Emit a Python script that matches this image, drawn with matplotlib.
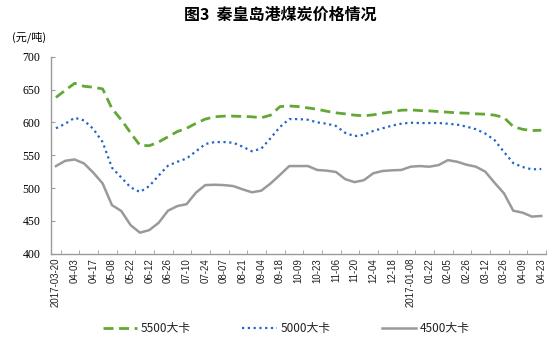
import matplotlib
matplotlib.use("Agg")
import matplotlib.pyplot as plt
import numpy as np

plt.rcParams['font.family'] = ['Noto Sans CJK SC', 'DejaVu Sans']

labels = ["2017-03-20", "04-03", "04-17", "05-08", "05-22", "06-12", "06-26", "07-10",
          "07-24", "08-07", "08-21", "09-04", "09-18", "10-09", "10-23", "11-06", "11-20",
          "12-04", "12-18", "2017-01-08", "01-22", "02-05", "02-26", "03-12", "03-26",
          "04-09", "04-23"]

s5500 = [638, 649, 659.5, 655, 653.5, 651, 621, 604, 584, 565, 564.5, 570, 578,
         586, 591, 598.5, 605, 608.5, 609.5, 609.5, 609, 608.5, 607, 611, 624, 625,
         624, 622, 620, 617, 614.5, 613, 611, 610, 611.5, 614, 616, 618.5, 619, 618,
         617.5, 616.5, 615.5, 614.5, 614, 613, 612.5, 611, 607.5, 593.5, 589.5, 587.5, 588]

s5000 = [591, 598, 607, 603, 590, 570, 531, 516, 501, 494, 503, 519, 534,
         540, 545, 556, 567, 570, 570, 569, 563, 556, 560, 576, 593, 605,
         605, 604, 600, 598, 594.5, 584, 579, 581, 587, 591, 595, 598, 599.5, 599,
         599, 599, 598, 596.5, 593.5, 589.5, 583, 573, 555, 538, 532, 528.5, 529]

s4500 = [533.5, 541.5, 543.5, 537.5, 523.5, 507, 474, 465, 443.5, 432, 436, 447, 465.5,
         472.5, 475.5, 493, 504.5, 505, 504.5, 503, 498, 493.5, 496, 507, 520, 533.5,
         533.5, 533.5, 527.5, 526.5, 524.5, 513.5, 509, 512, 522.5, 526, 527, 527.5, 532.5,
         533.5, 532.5, 535, 542.5, 540, 535.5, 532.5, 525, 508, 492, 465.5, 462.5, 456.5, 457.5]

x = np.arange(len(s5500))

fig = plt.figure(figsize=(5.57, 3.39), dpi=100)
ax = fig.add_axes([0.0921, 0.2516, 0.8880, 0.5811])

ax.plot(x, s5500, color='#62a835', lw=2.0, linestyle=(0, (3.6, 2.0)), label='5500大卡')
ax.plot(x, s5000, color='#1f66c8', lw=1.6, linestyle=(0, (1, 1.6)), label='5000大卡')
ax.plot(x, s4500, color='#9a9a9a', lw=1.8, linestyle='-', label='4500大卡')

ax.set_xlim(-0.5, len(x) - 0.5)
ax.set_ylim(400, 700)
ax.set_yticks(np.arange(400, 701, 50))
ax.set_xticks(np.arange(0, len(x), 2))
ax.set_xticklabels(labels, rotation=90, fontsize=7, family=['Liberation Sans'], color='#222222')
ax.set_xticks(np.arange(0.5, len(x), 2), minor=True)
ax.tick_params(axis='x', which='major', length=0, pad=3)
ax.tick_params(axis='x', which='minor', length=3, direction='in', color='#9a9a9a')
ax.tick_params(axis='y', length=3, direction='in', color='#9a9a9a', pad=8)
for t in ax.get_yticklabels():
    t.set_fontfamily('Liberation Serif')
    t.set_fontsize(8.5)

for s in ['top', 'right']:
    ax.spines[s].set_visible(False)
for s in ['left', 'bottom']:
    ax.spines[s].set_color('#9a9a9a')
    ax.spines[s].set_linewidth(1.0)

fig.text(0.503, 0.955, '图3  秦皇岛港煤炭价格情况', ha='center', va='center',
         fontsize=11.5, fontweight='bold')
fig.text(0.022, 0.89, '(元/吨)', ha='left', va='center', fontsize=8)

leg = fig.legend(loc='center', bbox_to_anchor=(0.514, 0.032), ncol=3, frameon=False,
                 fontsize=8.5, handlelength=2.9, columnspacing=4.4, handletextpad=0.3)
for t in leg.get_texts():
    t.set_color('#222222')

fig.savefig('out.png', dpi=100)
